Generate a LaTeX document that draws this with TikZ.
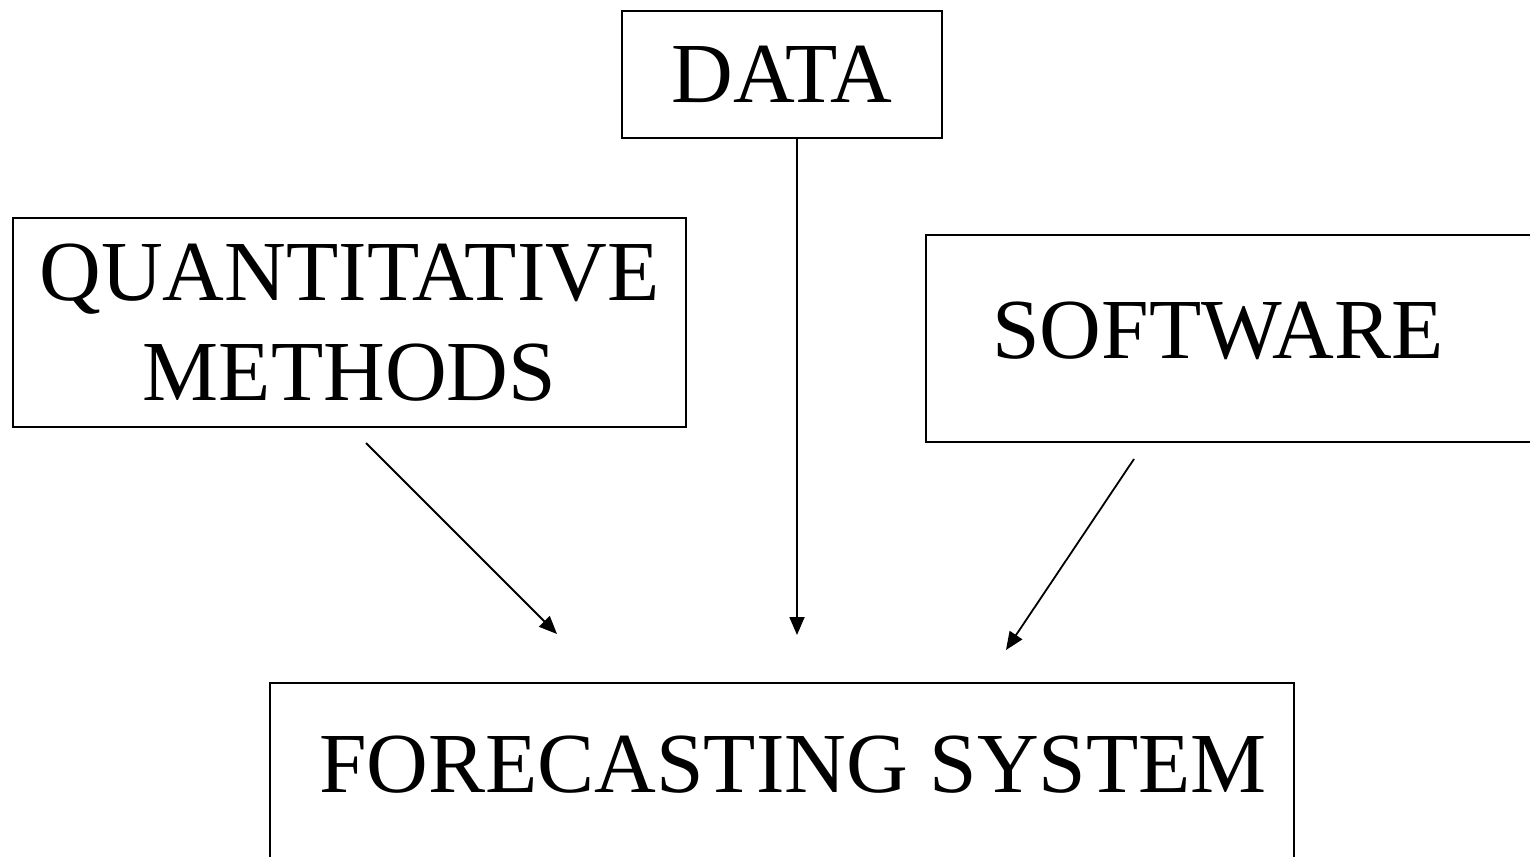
\documentclass[tikz,border=0pt]{standalone}
\usepackage{fontspec}
\setmainfont{Liberation Serif}
\usetikzlibrary{arrows.meta}
\tikzset{
  box/.style={draw, line width=1.8pt, rectangle, inner sep=0pt, align=center,
    font=\fontsize{85.5}{100}\selectfont},
  lbl/.style={inner sep=0pt, font=\fontsize{85.5}{100}\selectfont},
  conn/.style={line width=1.8pt, -{Triangle[length=18pt,width=15pt]}}
}
\begin{document}
\begin{tikzpicture}[x=1pt,y=-1pt]
\useasboundingbox[fill=white] (0,0) rectangle (1530,856);
% boxes
\node[box, minimum width=320pt, minimum height=127pt] (data) at (782,74.5) {DATA};
\node[box, minimum width=673pt, minimum height=209pt] (qm) at (349.5,322.5) {QUANTITATIVE\\METHODS};
\node[box, minimum width=620pt, minimum height=207pt] (sw) at (1236,338.5) {};
\node[lbl] (swt) at (1218,330.5) {SOFTWARE};
\node[box, minimum width=1024pt, minimum height=200pt] (fs) at (782,783) {};
\node[lbl] (fst) at (793,764.5) {FORECASTING SYSTEM};
% connector end points
\coordinate (d1) at (797,138);
\coordinate (d2) at (797,635);
\coordinate (q1) at (366,443);
\coordinate (q2) at (557,634);
\coordinate (s1) at (1134,459);
\coordinate (s2) at (1006,650);
\draw[conn] (d1) -- (d2);
\draw[conn] (q1) -- (q2);
\draw[conn] (s1) -- (s2);
\end{tikzpicture}
\end{document}
